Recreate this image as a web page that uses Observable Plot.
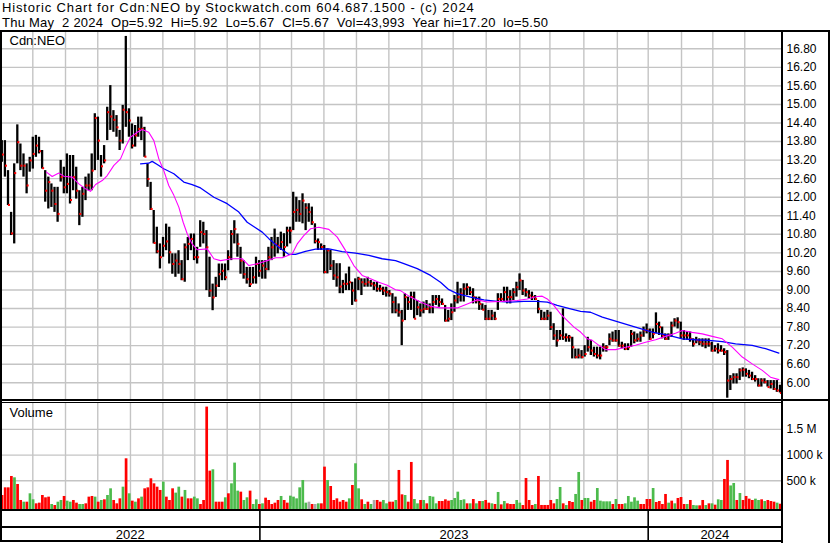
<!DOCTYPE html>
<html><head><meta charset="utf-8">
<script src="https://cdn.jsdelivr.net/npm/d3@7"></script>
<script src="https://cdn.jsdelivr.net/npm/@observablehq/plot@0.6"></script>
<style>
body{margin:0;background:#fff;}
#wrap{position:relative;width:830px;height:543px;overflow:hidden;font-family:"Liberation Sans",Arial,sans-serif;color:#000;background:#fff;}
.abs{position:absolute;}
.ln{position:absolute;background:#000;z-index:5;}
.hline{position:absolute;left:2px;font-size:13px;line-height:15px;white-space:pre;}
svg{display:block}
</style></head><body>
<div id="wrap">
 <div id="hdr1" class="hline" style="top:0px;letter-spacing:0.85px"></div>
 <div id="hdr2" class="hline" style="top:15px;letter-spacing:0.25px"></div>
 <div id="price" class="abs" style="left:0;top:32px"></div>
 <div id="volume" class="abs" style="left:0;top:403px"></div>
 <div id="years" class="abs" style="left:0;top:511px"></div>
 <div class="ln" style="left:0;top:30px;width:830px;height:2px"></div>
 <div class="ln" style="left:0;top:30px;width:2px;height:512px"></div>
 <div class="ln" style="left:781px;top:30px;width:2px;height:513px"></div>
 <div class="ln" style="left:828px;top:30px;width:2px;height:513px"></div>
 <div class="ln" style="left:0;top:399px;width:830px;height:2px"></div>
 <div class="ln" style="left:0;top:402px;width:781px;height:1px"></div>
 <div class="ln" style="left:0;top:509px;width:781px;height:2px"></div>
 <div class="ln" style="left:0;top:526px;width:781px;height:2px"></div>
 <div class="ln" style="left:0;top:540px;width:781px;height:2px"></div>
</div>
<script>
// ---- header text ----
const titleLine = "Historic Chart for Cdn:NEO by Stockwatch.com 604.687.1500 - (c) 2024";
const quoteLine = "Thu May  2 2024  Op=5.92  Hi=5.92  Lo=5.67  Cl=5.67  Vol=43,993  Year hi=17.20  lo=5.50";
const symbolLabel = "Cdn:NEO";
const volumeLabel = "Volume";

// ---- axes ----
const priceTicks = [6.00,6.60,7.20,7.80,8.40,9.00,9.60,10.20,10.80,11.40,12.00,12.60,13.20,13.80,14.40,15.00,15.60,16.20,16.80];
const volTicks = [500,1000,1500];            // thousands of shares
const volTickLabels = ["500 k","1000 k","1.5 M"];
// month boundaries, in trading-session index (session 0 = first session shown)
const monthStarts = [20.5,41.6,62.4,83.5,104.4,125,145.9,167,187.4,208.3,229.3,250.2,271.5,291.7,313,334.7,354.1,376,397.6,417.5,439,459.2,479.8];
const yearLabels = ["2022","2023","2024"];
const yearStart = [-0.34,167,417.5];
const yearEnd = [167,417.5,503.5];
const sessionDomain = [-0.34, 503.5];

// ---- price bars (each bar = 2 sessions) ----
const high = [13.83,13.83,12.86,11.51,13.08,14.34,13.72,13.40,13.08,13.29,
13.94,14.00,13.94,13.51,12.86,12.65,12.43,12.32,12.32,13.19,
12.97,13.40,13.35,13.35,12.97,12.21,12.32,12.65,12.75,13.40,
14.70,14.59,13.35,13.67,14.91,15.61,14.80,14.64,14.16,14.97,
17.20,14.86,14.37,14.32,14.59,14.59,14.26,13.08,12.48,11.57,
11.03,10.49,10.70,11.13,11.03,10.17,10.17,10.27,9.95,10.49,
10.70,10.81,10.81,10.38,11.24,11.19,10.92,10.06,9.19,9.41,
9.84,9.84,9.84,10.27,10.92,11.24,10.81,10.38,9.95,9.73,
9.73,9.73,10.06,9.95,9.95,9.95,10.38,10.70,10.97,10.70,
10.87,10.82,11.03,11.03,12.16,12.00,11.89,12.11,11.79,11.79,
11.68,11.14,10.65,10.49,10.44,10.33,10.28,9.95,9.85,9.85,
9.31,9.52,9.74,9.25,9.36,9.41,9.36,9.36,9.41,9.31,
9.25,9.25,9.15,9.09,9.09,8.98,8.88,8.77,8.55,8.34,
8.88,8.77,8.93,8.93,8.66,8.55,8.61,8.66,8.55,8.82,
8.82,8.82,8.71,8.50,8.34,8.55,8.82,9.25,9.04,9.20,
9.20,9.09,9.04,8.77,8.77,8.55,8.50,8.34,8.34,8.28,
8.88,8.88,9.09,9.09,8.98,9.04,9.25,9.52,9.31,9.04,
8.98,8.93,8.82,8.66,8.34,8.28,8.34,8.28,7.91,7.69,
7.69,8.39,7.58,7.53,7.47,7.09,7.09,7.04,7.20,7.47,
7.37,7.15,7.15,7.15,7.26,7.20,7.58,7.64,7.69,7.69,
7.31,7.26,7.26,7.69,7.64,7.58,7.64,7.80,7.90,7.74,
7.74,8.26,7.96,7.80,7.58,7.58,7.96,8.07,8.10,7.96,
7.69,7.64,7.64,7.42,7.47,7.42,7.42,7.42,7.42,7.31,
7.20,7.26,7.20,7.10,7.04,6.23,6.29,6.29,6.45,6.48,
6.45,6.40,6.34,6.23,6.13,6.13,6.13,6.07,6.07,6.07,
6.07,5.92];
const low = [13.13,12.65,11.73,10.76,10.49,13.08,12.86,12.65,12.11,12.81,
12.91,13.29,13.40,12.91,11.84,11.62,11.67,11.51,11.19,12.49,
12.11,12.11,11.78,12.21,11.94,11.08,11.35,11.89,12.21,12.21,
12.86,13.19,12.65,13.08,13.83,14.16,14.10,13.94,13.51,13.72,
14.26,13.94,13.56,13.62,13.94,13.83,13.29,12.32,11.57,10.49,
10.17,9.68,10.06,10.27,9.84,9.51,9.41,9.51,9.30,9.25,
9.95,10.27,9.95,9.84,10.38,10.49,8.98,8.76,8.33,8.76,
9.08,9.30,9.30,9.62,9.95,10.49,10.06,9.51,9.35,9.19,
9.08,9.19,9.19,9.41,9.35,9.35,9.62,9.95,10.06,10.17,
10.28,10.06,10.39,10.49,10.92,11.19,11.19,11.14,10.92,11.19,
11.09,10.49,10.28,10.28,9.52,9.52,9.63,9.31,9.09,8.88,
8.88,8.98,8.98,8.50,8.61,8.98,8.82,9.09,9.09,9.09,
8.98,8.93,8.93,8.82,8.77,8.77,8.23,8.23,8.12,7.20,
8.01,8.34,8.34,8.07,8.17,8.12,8.23,8.34,8.23,8.23,
8.50,8.44,8.50,7.96,7.96,8.01,8.28,8.55,8.61,8.61,
8.82,8.82,8.55,8.55,8.34,8.34,8.01,8.01,8.01,8.01,
8.34,8.61,8.61,8.55,8.55,8.66,8.77,8.98,8.82,8.77,
8.71,8.66,8.66,8.23,8.01,8.01,8.01,7.69,7.37,7.15,
7.37,7.37,7.31,7.31,6.77,6.77,6.77,6.77,6.83,6.99,
6.88,6.83,6.77,6.74,6.99,6.99,7.20,7.31,7.31,7.15,
7.10,7.04,7.04,7.15,7.26,7.31,7.31,7.47,7.58,7.37,
7.42,7.58,7.53,7.42,7.37,7.37,7.47,7.80,7.74,7.42,
7.37,7.37,7.31,7.15,7.26,7.20,7.15,7.10,7.15,6.99,
6.99,6.93,6.99,6.88,5.50,5.75,5.96,5.96,6.07,6.18,
6.18,6.13,6.07,6.02,5.86,5.86,5.96,5.86,5.80,5.75,
5.69,5.67];
const close = [13.38,13.02,11.75,10.83,12.78,13.78,13.02,13.02,12.38,13.19,
13.40,13.67,13.49,12.94,12.21,12.49,12.21,11.78,11.46,12.65,
12.32,12.43,11.91,12.65,12.21,11.46,12.11,12.38,12.38,12.86,
14.56,13.83,13.00,13.19,14.75,14.61,14.50,14.26,13.83,14.83,
14.75,14.48,13.67,14.00,14.21,14.21,13.31,12.59,11.62,10.52,
10.25,10.06,10.43,10.57,10.22,9.84,9.95,9.84,9.35,10.38,
10.49,10.65,10.06,10.06,10.87,10.81,10.38,8.98,8.76,9.14,
9.51,9.62,9.41,10.06,10.81,10.97,10.49,9.95,9.51,9.35,
9.19,9.41,9.84,9.62,9.79,9.68,10.06,10.38,10.49,10.43,
10.55,10.39,10.92,10.92,11.52,11.59,11.46,11.89,11.66,11.52,
11.19,10.58,10.55,10.39,9.58,10.28,9.79,9.47,9.41,9.11,
9.20,9.20,9.25,8.98,8.66,9.36,9.25,9.20,9.25,9.20,
9.15,9.04,9.04,8.98,8.93,8.88,8.61,8.34,8.28,8.01,
8.77,8.61,8.77,8.07,8.44,8.34,8.39,8.39,8.44,8.61,
8.71,8.61,8.55,8.01,8.07,8.28,8.66,8.77,8.88,9.04,
9.09,8.93,8.77,8.66,8.55,8.36,8.07,8.07,8.17,8.07,
8.71,8.71,8.93,8.77,8.77,8.93,9.09,9.31,8.98,8.93,
8.82,8.77,8.71,8.39,8.07,8.07,8.17,7.80,7.53,7.37,
7.53,7.47,7.47,7.47,7.15,6.83,6.88,6.83,6.93,7.15,
7.04,6.93,6.88,6.88,7.15,7.15,7.42,7.37,7.37,7.20,
7.20,7.10,7.15,7.58,7.37,7.42,7.53,7.69,7.69,7.42,
7.58,7.90,7.80,7.53,7.42,7.53,7.85,8.01,7.96,7.53,
7.53,7.53,7.42,7.26,7.37,7.31,7.26,7.26,7.26,7.04,
7.10,7.04,7.04,6.99,6.07,6.12,6.18,6.18,6.40,6.42,
6.29,6.23,6.12,6.12,5.91,6.07,6.02,5.86,5.96,5.80,
5.75,5.67];

// ---- volume (thousands), per 2-session bar; r = down, g = up, n = unchanged ----
const volume = [214,363,363,584,558,428,117,84,84,247,
130,52,65,214,169,182,39,19,84,117,
195,104,84,117,65,39,39,52,182,195,
182,84,117,130,214,344,117,52,149,376,
928,247,104,84,149,182,344,363,539,441,
376,312,474,182,117,344,260,376,182,312,
149,149,182,149,39,117,1934,688,714,84,
84,84,169,247,441,844,299,279,117,169,
299,39,130,39,52,162,117,39,65,117,
195,117,65,201,182,149,363,506,65,84,
39,39,52,52,766,506,389,117,149,84,
117,84,149,409,831,344,130,39,84,39,
117,117,84,117,52,84,84,117,701,227,
214,84,857,136,52,117,117,52,195,182,
52,97,97,130,104,117,156,279,117,130,
52,52,136,52,97,97,117,65,52,39,
273,32,97,52,39,39,117,65,19,545,
117,19,39,584,20,20,20,117,52,136,
370,52,19,97,78,234,662,117,156,156,
84,117,350,104,91,91,91,39,136,39,
39,52,195,84,169,104,39,39,136,136,
350,78,97,39,234,65,104,52,156,175,
39,39,117,19,13,13,117,19,52,52,
26,130,117,526,896,400,448,117,253,117,
195,143,117,143,117,130,97,117,97,84,
65,44];
const volDir = ("rrrrgrrgrg"+"grrrrrgrgg"+"rggrrggrrr"+"grgrggrrrg"+"rgrgrgrrrr"+
"rrgrrrggrg"+"rrggrrrrgr"+"rrgrgggrgg"+"rggrgrrrrr"+"grrggggggn"+
"rngrrgrrrr"+"rrgrggrgrg"+"nrrggrrgrr"+"grrggrgrgg"+"grrrrggggg"+
"rgrgrgrrgr"+"grgrrrggrr"+"rrgrrrrrrg"+"grgrrggrgg"+"rrgggggrgr"+
"rgggggrrrr"+"grrrrgrgrr"+"rgrggrrgrg"+"rggrrggrgr"+"rrrggrgrrr"+"gr").split("");

// ---- moving averages (session index, price) ----
const maFastSession = [29.3,33.0,37.3,40.5,45.9,50.2,54.5,57.7,61.0,65.3,68.5,72.8,77.1,80.3,83.5,87.9,91.1,95.3,98.6,101.8,105.0,108.2,111.5,114.7,117.5,120.1,123.3,126.6,133.0,137.3,141.6,149.1,155.6,159.9,165.3,171.7,177.1,181.4,187.9,191.1,195.3,199.7,205.0,211.5,216.9,222.2,227.6,233.0,238.4,243.7,249.2,254.5,257.7,264.2,270.6,277.1,283.5,294.3,300.8,307.2,313.7,326.6,333.0,339.5,345.9,349.1,352.4,356.6,360.9,365.3,369.6,373.9,378.2,381.4,385.7,390.0,396.5,402.9,409.3,415.8,422.3,428.7,435.1,439.5,445.9,452.4,458.8,465.3,471.7,478.2,484.6,491.1,496.4,501.8];
const maFastPrice = [12.81,12.67,12.78,12.68,12.65,12.43,12.27,12.19,12.41,12.54,12.70,13.03,13.24,13.62,13.94,14.10,14.19,14.10,13.83,13.24,12.86,12.38,12.06,11.68,11.19,10.82,10.49,10.30,10.33,10.01,9.95,10.01,10.01,9.79,9.85,9.95,10.04,10.04,10.17,10.49,10.76,10.98,11.03,10.96,10.71,10.28,9.79,9.47,9.36,9.25,9.15,9.01,8.98,8.77,8.61,8.47,8.42,8.42,8.55,8.68,8.61,8.64,8.66,8.71,8.79,8.80,8.71,8.50,8.23,8.01,7.80,7.64,7.42,7.37,7.21,7.07,7.07,7.15,7.21,7.31,7.39,7.50,7.60,7.69,7.63,7.58,7.50,7.42,7.15,6.83,6.61,6.40,6.18,6.10];
const maSlowSession = [90.0,95.3,97.5,100.8,105.0,111.5,117.9,123.3,128.7,137.3,145.9,153.4,158.8,164.2,168.5,172.8,179.2,185.7,190.0,196.4,202.9,211.5,220.1,228.7,237.3,245.9,254.5,259.9,268.5,277.1,283.5,288.9,294.3,302.9,311.5,320.1,328.7,337.3,345.9,352.4,358.8,367.4,373.9,380.3,387.9,398.6,409.3,420.1,430.8,439.5,448.1,456.6,465.3,473.9,484.6,493.2,501.8];
const maSlowPrice = [13.08,13.10,13.16,13.06,12.92,12.76,12.49,12.41,12.30,12.00,11.79,11.52,11.19,11.01,10.87,10.66,10.38,10.15,10.15,10.25,10.32,10.33,10.24,10.19,10.12,10.01,9.95,9.85,9.69,9.47,9.25,9.01,8.88,8.77,8.68,8.63,8.61,8.63,8.63,8.61,8.50,8.39,8.31,8.28,8.12,7.96,7.80,7.64,7.53,7.42,7.39,7.37,7.33,7.26,7.21,7.10,6.96];

// ---- build tables ----
const sessionsPerBar = 2;
const bars = high.map((h, i) => ({s: i * sessionsPerBar + 0.5, high: h, low: low[i], close: close[i]}));
const dirColor = {r: "#ff0000", g: "#4cbb4c", n: "#a8a8a8"};
const vols = volume.map((v, i) => ({s0: i * sessionsPerBar, s1: (i + 1) * sessionsPerBar, v, c: dirColor[volDir[i]]}));
const maFast = maFastSession.map((s, i) => ({s, p: maFastPrice[i]}));
const maSlow = maSlowSession.map((s, i) => ({s, p: maSlowPrice[i]}));
const years = yearLabels.map((y, i) => ({y, mid: (yearStart[i] + yearEnd[i]) / 2}));
const volLabel = new Map(volTicks.map((t, i) => [t, volTickLabels[i]]));

document.getElementById("hdr1").textContent = titleLine;
document.getElementById("hdr2").textContent = quoteLine;

const font = '"Liberation Sans", Arial, sans-serif';
const baseStyle = {fontFamily: font, fontSize: "12px", color: "#000", background: "transparent", overflow: "visible"};
const gridStyle = {stroke: "#c4c4c4", strokeOpacity: 1, strokeWidth: 1.4};
const W = 830, MR = 49;

const price = Plot.plot({
  width: W, height: 367, marginLeft: 0, marginRight: MR, marginTop: 0, marginBottom: 0,
  style: baseStyle,
  x: {domain: sessionDomain, axis: null},
  y: {domain: [5.458, 17.327], axis: null, label: null},
  marks: [
    Plot.gridX(monthStarts, gridStyle),
    Plot.gridY(priceTicks, gridStyle),
    Plot.axisY(priceTicks, {anchor: "right", label: null, tickSize: 0, tickPadding: 5, tickFormat: d3.format(".2f"), fontSize: 12, fill: "#000"}),
    Plot.ruleX(bars, {x: "s", y1: "low", y2: "high", stroke: "#000", strokeWidth: 2.3}),
    Plot.dot(bars, {x: "s", y: "close", symbol: "square", r: 1.15, fill: "#ff0000", stroke: null, dx: 1}),
    Plot.line(maSlow, {x: "s", y: "p", stroke: "#0000ff", strokeWidth: 1.3}),
    Plot.line(maFast, {x: "s", y: "p", stroke: "#ff00ff", strokeWidth: 1.1}),
    Plot.text([symbolLabel], {frameAnchor: "top-left", dx: 9, dy: 3, fontSize: 13, textAnchor: "start", lineAnchor: "top", fill: "#000"})
  ]
});
document.getElementById("price").appendChild(price);

const vol = Plot.plot({
  width: W, height: 106, marginLeft: 0, marginRight: MR, marginTop: 0, marginBottom: 3,
  style: baseStyle,
  x: {domain: sessionDomain, axis: null},
  y: {domain: [0, 2004], axis: null, label: null},
  marks: [
    Plot.gridX(monthStarts, gridStyle),
    Plot.gridY(volTicks, gridStyle),
    Plot.axisY(volTicks, {anchor: "right", label: null, tickSize: 0, tickPadding: 5, tickFormat: d => volLabel.get(d), fontSize: 12, fill: "#000"}),
    Plot.rectY(vols, {x1: "s0", x2: "s1", y: "v", fill: "c", insetBottom: -3, insetLeft: 0.2, insetRight: 0.2}),
    Plot.text([volumeLabel], {frameAnchor: "top-left", dx: 9, dy: 4, fontSize: 13, textAnchor: "start", lineAnchor: "top", fill: "#000"})
  ]
});
document.getElementById("volume").appendChild(vol);

const yr = Plot.plot({
  width: W, height: 29, marginLeft: 0, marginRight: MR, marginTop: 0, marginBottom: 0,
  style: baseStyle,
  x: {domain: sessionDomain, axis: null},
  marks: [
    Plot.ruleX(yearStart.slice(1), {stroke: "#000", strokeWidth: 1.6}),
    Plot.text(years, {x: "mid", text: "y", frameAnchor: "bottom", dy: -6, lineAnchor: "middle", fontSize: 13, fill: "#000"})
  ]
});
document.getElementById("years").appendChild(yr);
</script>
</body></html>
